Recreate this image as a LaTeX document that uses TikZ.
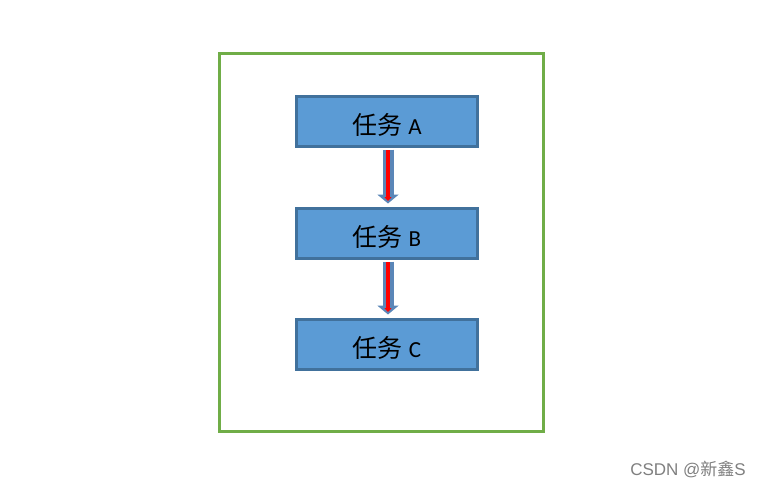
\documentclass[tikz,border=0pt]{standalone}
\usepackage{fontspec}
\setmainfont{Carlito}
\newfontfamily\cjk{Noto Sans CJK SC}
\newfontfamily\wmfont{Liberation Sans}
\usetikzlibrary{arrows.meta}
\definecolor{boxfill}{HTML}{5B9BD5}
\definecolor{boxline}{HTML}{41719C}
\definecolor{framegreen}{HTML}{70AD47}
\definecolor{arrowblue}{HTML}{5A86B8}
\newcommand{\tasklabel}[1]{{\cjk\fontsize{25}{30}\selectfont 任务}\hspace{6pt}{\fontsize{23}{27}\selectfont #1}}
\begin{document}
\begin{tikzpicture}[x=1pt,y=-1pt,
  taskbox/.style={draw=boxline, fill=boxfill, line width=3pt, minimum width=181pt, minimum height=50pt, inner sep=0pt, text=black, text height=25pt, text depth=0pt},
  blockarrow/.style={draw=arrowblue, line width=11pt, -{Triangle[width=21pt,length=9pt]}, shorten <=1.5pt, shorten >=3.5pt},
  redline/.style={draw=red, line width=4pt, -{Triangle[width=7pt,length=4pt]}, shorten <=2pt, shorten >=6pt}
]
\useasboundingbox (0,0) rectangle (760,488);
\fill[white] (0,0) rectangle (760,488);
\draw[framegreen, line width=3pt] (219.5,53.5) rectangle (543.5,431.5);
\node[taskbox] (a) at (387,121.5) {\tasklabel{A}};
\node[taskbox] (b) at (387,233.5) {\tasklabel{B}};
\node[taskbox] (c) at (387,344.5) {\tasklabel{C}};
\draw[blockarrow] ([xshift=1pt]a.south) -- ([xshift=1pt]b.north);
\draw[redline] ([xshift=1pt]a.south) -- ([xshift=1pt]b.north);
\draw[blockarrow] ([xshift=1pt]b.south) -- ([xshift=1pt]c.north);
\draw[redline] ([xshift=1pt]b.south) -- ([xshift=1pt]c.north);
\node[text=gray, anchor=east, inner sep=0pt] (wm) at (746,469) {\fontsize{17}{20}\selectfont\wmfont CSDN @{\cjk 新鑫}S};
\end{tikzpicture}
\end{document}
